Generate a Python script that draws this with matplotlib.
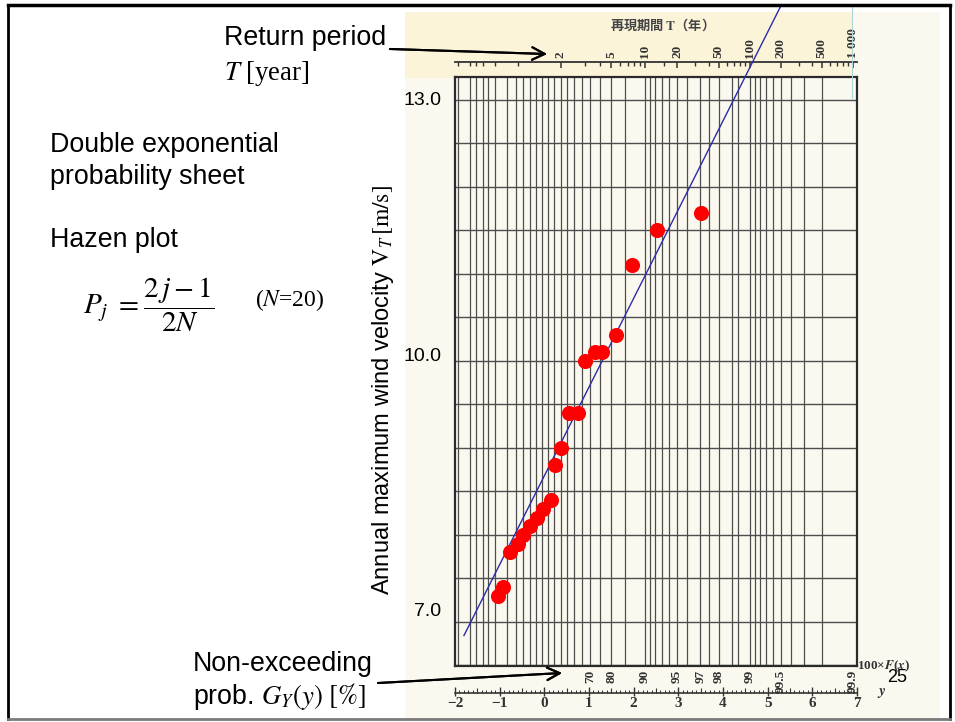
import numpy as np
import matplotlib.pyplot as plt
from matplotlib.patches import Rectangle
from matplotlib.lines import Line2D

plt.rcParams['mathtext.fontset'] = 'stix'
plt.rcParams['font.family'] = ['Liberation Sans', 'DejaVu Sans']

W, H = 955, 722

# annual maximum wind velocity [m/s], sorted, and reduced variate
velocity = [7.3, 7.4, 7.8, 7.9, 8.0, 8.1, 8.2, 8.3, 8.4, 8.8,
            9.0, 9.4, 9.4, 10.0, 10.1, 10.1, 10.3, 11.1, 11.5, 11.7]
reduced_y = [-1.03, -0.93, -0.77, -0.60, -0.47, -0.32, -0.17, -0.02, 0.14, 0.24,
             0.37, 0.56, 0.75, 0.92, 1.13, 1.30, 1.60, 1.96, 2.52, 3.51]

# fitted straight line V = a + b*y
fit_a, fit_b = 8.68, 1.02
fit_y = [-1.80, 5.31]

# probability sheet grid (non-exceeding prob. in %)
grid_F = [0.1, 0.5, 1, 2, 3, 5, 10, 15, 20, 25, 30, 35, 40, 45, 50, 55, 60, 65,
          70, 75, 80, 85, 90, 91, 92, 93, 94, 95, 96, 97, 97.5, 98, 98.5, 98.7,
          99, 99.1, 99.2, 99.3, 99.4, 99.5, 99.6, 99.7, 99.8]
grid_V = [6.5, 7.0, 7.5, 8.0, 8.5, 9.0, 9.5, 10.0, 10.5, 11.0, 11.5, 12.0, 12.5, 13.0]
F_ticks = [70, 80, 90, 95, 97, 98, 99, 99.5, 99.9]
F_labels = ['70', '80', '90', '95', '97', '98', '99', '99.5', '99.9']
T_major = [2, 5, 10, 20, 50, 100, 200, 500, 1000]
T_labels = ['2', '5', '10', '20', '50', '100', '200', '500', '1 000']
T_minor = [1.001, 1.005, 1.01, 1.02, 1.05, 1.2, 3, 4, 6, 7, 8, 9, 15, 30, 40,
           60, 70, 80, 90, 300, 400, 600, 700, 800, 900]
y_major = [-2, -1, 0, 1, 2, 3, 4, 5, 6, 7]
y_labels = ['\u22122', '\u22121', '0', '1', '2', '3', '4', '5', '6', '7']
v_ticks = [13.0, 10.0, 7.0]
v_labels = ['13.0', '10.0', '7.0']

SERIF = ['Liberation Serif', 'DejaVu Serif']


def gumbel(F):
    F = np.asarray(F, dtype=float)
    return -np.log(-np.log(F))


def px(x, y):
    return x / W, 1 - y / H


fig = plt.figure(figsize=(W / 100, H / 100), dpi=100)
fig.patch.set_facecolor('white')

# scanned sheet background
fig.add_artist(Rectangle(px(405, 719), 535 / W, 707 / H, transform=fig.transFigure,
                         fc='#fbf9ef', ec='none', zorder=0))
fig.add_artist(Rectangle(px(405, 78), 447 / W, 66 / H, transform=fig.transFigure,
                         fc='#fcf4d9', ec='none', zorder=0))
fig.add_artist(Line2D([852 / W, 852 / W], [1 - 5 / H, 1 - 98 / H], transform=fig.transFigure,
                      color='#a9d6d6', lw=0.8, zorder=1))

ax = fig.add_axes([455 / W, 1 - 666 / H, 402 / W, 589 / H])
ax.patch.set_alpha(0)
ax.set_xlim(-2, 7)
ax.set_ylim(6.494, 13.264)

ax.vlines(gumbel(np.array(grid_F) / 100), 6.494, 13.264, color='#4d4d4d', lw=0.9, zorder=1)
ax.hlines(grid_V, -2, 7, color='#4d4d4d', lw=1.0, zorder=1)
for s in ax.spines.values():
    s.set_linewidth(1.6)
    s.set_color('#2b2b2b')

ax.set_yticks([])
ax.set_xticks(gumbel(np.array(F_ticks) / 100))
ax.set_xticklabels(F_labels, rotation=90, va='top', family=SERIF,
                   fontweight='bold', fontsize=9.5, color='#333333')
ax.tick_params(axis='x', length=0, pad=2.5)

xt = ax.get_xaxis_transform()
ppx = 1 / 589.0  # one pixel in axes fraction (vertical)

# top return-period scale
top = 1 + 15 * ppx
ax.plot([-2, 7], [top, top], transform=xt, clip_on=False, color='#333333', lw=1.3)
xT = gumbel(1 - 1 / np.array(T_major, dtype=float))
xTm = gumbel(1 - 1 / np.array(T_minor, dtype=float))
ax.vlines(xT, top - 6 * ppx, top, transform=xt, clip_on=False, color='#333333', lw=1.1)
ax.vlines(xTm, top - 3.5 * ppx, top, transform=xt, clip_on=False, color='#333333', lw=1.0)
for x, lab in zip(xT, T_labels):
    ax.text(x, top + 4 * ppx, lab, transform=xt, rotation=90, ha='center', va='bottom',
            fontsize=9.5, fontweight='bold', family=SERIF, color='#333333')
fig.text(*px(659, 25), '再現期間 $\\mathbf{T}$（年）', ha='center', va='center', fontsize=9.5,
         family=['Noto Sans CJK JP', 'DejaVu Sans'], fontweight='bold', color='#444444')

# bottom reduced-variate scale
bot = -27 * ppx
ax.plot([-2, 7], [bot, bot], transform=xt, clip_on=False, color='#333333', lw=1.2)
ax.vlines(np.arange(-2, 7.001, 0.1), bot, bot + 3 * ppx, transform=xt, clip_on=False,
          color='#333333', lw=0.7)
ax.vlines(np.arange(-1.5, 7, 1.0), bot, bot + 5 * ppx, transform=xt, clip_on=False,
          color='#333333', lw=0.8)
ax.vlines(y_major, bot - 3 * ppx, bot + 6 * ppx, transform=xt, clip_on=False,
          color='#333333', lw=1.0)
for x, lab in zip(y_major, y_labels):
    ax.text(x, bot - 4 * ppx, lab, transform=xt, ha='center', va='top', fontsize=11,
            fontweight='bold', family=SERIF, color='#333333')
ax.text(7.55, bot, '$\\boldsymbol{y}$', transform=xt, ha='center', va='center', fontsize=11,
        color='#333333')
ax.text(1.0, 0.0, '100×$\\boldsymbol{F}$($\\boldsymbol{x}$)', transform=ax.transAxes, ha='left',
        va='center', fontsize=9.5, fontweight='bold', family=SERIF, color='#333333')

# data and fitted line
yy = np.array(fit_y)
ax.plot(yy, fit_a + fit_b * yy, color='#2c2ca8', lw=1.0, clip_on=False, zorder=3)
ax.scatter(reduced_y, velocity, s=118, color='#ff0000', linewidths=0, zorder=4)

# velocity labels
label_dy = [-1, 4, 10]
for v, lab, dy in zip(v_ticks, v_labels, label_dy):
    ax.annotate(lab, xy=(0, v), xycoords=('axes fraction', 'data'), xytext=(-14, dy),
                textcoords='offset pixels', ha='right', va='center', fontsize=14)

fig.text(*px(383, 390), 'Annual maximum wind velocity $\\mathrm{V}_T\\,\\mathrm{[m/s]}$',
         rotation=90, ha='center', va='center', fontsize=17)

# slide text
fs = 19.3
fig.text(*px(224, 38), 'Return period', ha='left', va='center', fontsize=fs)
fig.text(*px(224, 73), '$T$ [year]', ha='left', va='center', fontsize=fs, family=SERIF)
fig.text(*px(50, 145), 'Double exponential', ha='left', va='center', fontsize=fs)
fig.text(*px(50, 177), 'probability sheet', ha='left', va='center', fontsize=fs)
fig.text(*px(50, 240), 'Hazen plot', ha='left', va='center', fontsize=fs)
fig.text(*px(83, 305), '$P_j\\ =\\dfrac{2\\,j-1}{2N}$', ha='left', va='center', fontsize=21)
fig.text(*px(255, 300), '($N$=20)', ha='left', va='center', fontsize=17, family=SERIF)
fig.text(*px(193, 664), 'Non-exceeding', ha='left', va='center', fontsize=fs)
fig.text(*px(193, 697), 'prob. $G_Y(y)\\ \\mathrm{[\\%]}$', ha='left', va='center', fontsize=fs)
fig.text(*px(897, 678), '25', ha='center', va='center', fontsize=13)

# arrows
arrow = dict(arrowstyle='->,head_length=0.9,head_width=0.45', color='black', lw=1.5,
             shrinkA=0, shrinkB=0)
fig.add_artist(plt.annotate('', xy=(547, H - 54), xytext=(390, H - 49), xycoords='figure pixels',
                            textcoords='figure pixels', arrowprops=arrow))
fig.add_artist(plt.annotate('', xy=(562, H - 673), xytext=(378, H - 683),
                            xycoords='figure pixels', textcoords='figure pixels',
                            arrowprops=arrow))

# slide border
fig.add_artist(Line2D([8 / W, 950 / W], [1 - 5 / H, 1 - 5 / H], transform=fig.transFigure,
                      color='black', lw=2.5, zorder=10))
fig.add_artist(Line2D([8 / W, 8 / W], [1 - 5 / H, 1 - 719 / H], transform=fig.transFigure,
                      color='black', lw=2.0, zorder=10))
fig.add_artist(Line2D([950 / W, 950 / W], [1 - 5 / H, 1 - 719 / H], transform=fig.transFigure,
                      color='black', lw=2.0, zorder=10))
fig.add_artist(Line2D([8 / W, 950 / W], [1 - 719 / H, 1 - 719 / H], transform=fig.transFigure,
                      color='#7a7a7a', lw=2.0, zorder=10))

fig.savefig('out.png', dpi=100)
